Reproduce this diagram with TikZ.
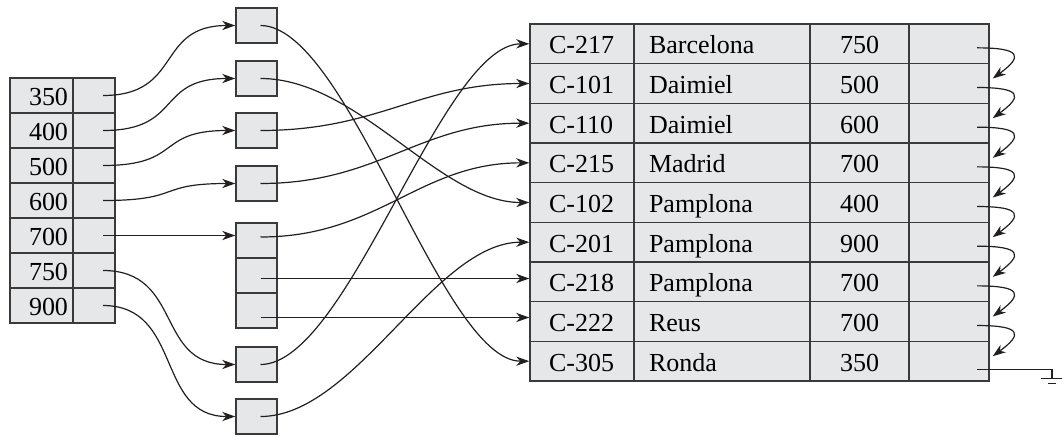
\documentclass[tikz,border=0pt]{standalone}
\usepackage{fontspec}
\setmainfont{Liberation Serif}
\usetikzlibrary{arrows.meta,calc}
\definecolor{cellfill}{HTML}{E6E7E8}
\definecolor{ink}{HTML}{231F20}
\definecolor{edge}{HTML}{3A3A3A}
\begin{document}
\begin{tikzpicture}[x=0.5pt,y=-0.5pt,
  cellbase/.style={draw=edge, fill=cellfill, line width=0.75pt, inner xsep=0pt, inner ysep=0pt,
    font=\fontsize{13}{15}\selectfont, text height=11pt, text depth=1pt},
  idxval/.style={cellbase, minimum height=17.5pt, text width=26.5pt, inner xsep=2.5pt, align=right},
  idxptr/.style={cellbase, minimum height=17.5pt, minimum width=21pt},
  bucket/.style={cellbase, minimum height=17.5pt, minimum width=20.5pt},
  tca/.style={cellbase, minimum height=19.835pt, text width=33pt, inner xsep=9.5pt, align=left},
  tcb/.style={cellbase, minimum height=19.835pt, text width=73pt, inner xsep=7.5pt, align=left},
  tcc/.style={cellbase, minimum height=19.835pt, minimum width=49.5pt},
  tcd/.style={cellbase, minimum height=19.835pt, minimum width=40pt},
  ptr/.style={draw=ink, line width=0.6pt, -{Stealth[length=6.5pt,width=4.6pt,inset=2pt]}},
  plain/.style={draw=ink, line width=0.6pt}
]
\useasboundingbox (0,0) rectangle (1062,435);

% index file
\foreach \v [count=\i from 0] in {350,400,500,600,700,750,900} {
  \node[idxval] (v\v) at (41.5, 95.5+35*\i) {\v};
  \node[idxptr] (p\v) at (94, 95.5+35*\i) {};
  \coordinate (s\v) at ($(p\v.center)+(9,0)$);
}

% buckets
\node[bucket] (b1) at (256.5,25.5) {};
\node[bucket] (b2) at (256.5,78.5) {};
\node[bucket] (b3) at (256.5,130.5) {};
\node[bucket] (b4) at (256.5,183.5) {};
\node[bucket] (b5a) at (256.5,240.5) {};
\node[bucket] (b5b) at (256.5,275.5) {};
\node[bucket] (b5c) at (256.5,310.5) {};
\node[bucket] (b6) at (256.5,364.5) {};
\node[bucket] (b7) at (256.5,416.5) {};
\foreach \b in {b1,b2,b3,b4,b6,b7} {
  \coordinate (s\b) at ($(\b.center)+(4,0)$);
}
\coordinate (sb5a) at ($(b5a.center)+(4,-3.5)$);
\coordinate (sb5b) at ($(b5b.center)+(4,3)$);
\coordinate (sb5c) at ($(b5c.center)+(4,7)$);

% account table
\foreach \n/\c/\m [count=\i from 0] in {217/Barcelona/750, 101/Daimiel/500, 110/Daimiel/600,
  215/Madrid/700, 102/Pamplona/400, 201/Pamplona/900, 218/Pamplona/700, 222/Reus/700, 305/Ronda/350} {
  \node[tca] (a\n) at (582, 43.83+39.67*\i) {C-\n};
  \node[tcb] (c\n) at (722, 43.83+39.67*\i) {\c};
  \node[tcc] (m\n) at (859.5, 43.83+39.67*\i) {\m};
  \node[tcd] (n\n) at (949, 43.83+39.67*\i) {};
  \coordinate (t\n) at ($(n\n.center)+(28,4)$);
  \coordinate (r\n) at ($(n\n.east)+(3,-5)$);
}

% index -> buckets
\draw[ptr] (s350) .. controls +(80,0) and +(-80,0) .. (b1.west);
\draw[ptr] (s400) .. controls +(80,0) and +(-80,0) .. (b2.west);
\draw[ptr] (s500) .. controls +(80,0) and +(-80,0) .. (b3.west);
\draw[ptr] (s600) .. controls +(80,0) and +(-80,0) .. (b4.west);
\draw[ptr] (s700) -- (s700 -| b5a.west);
\draw[ptr] (s750) .. controls +(80,0) and +(-80,0) .. (b6.west);
\draw[ptr] (s900) .. controls +(80,0) and +(-80,0) .. (b7.west);

% buckets -> table
\draw[ptr] (sb1) .. controls +(88,0) and +(-88,0) .. (a305.west);
\draw[ptr] (sb2) .. controls +(98,0) and +(-90,0) .. (a102.west);
\draw[ptr] (sb3) .. controls +(118,0) and +(-110,0) .. (a101.west);
\draw[ptr] (sb4) .. controls +(118,0) and +(-110,0) .. (a110.west);
\draw[ptr] (sb5a) .. controls +(118,0) and +(-110,0) .. (a215.west);
\draw[ptr] (sb5b) -- (sb5b -| a218.west);
\draw[ptr] (sb5c) -- (sb5c -| a222.west);
\draw[ptr] (sb6) .. controls +(88,0) and +(-88,0) .. (a217.west);
\draw[ptr] (sb7) .. controls +(95,0) and +(-95,0) .. (a201.west);

% chain of records
\foreach \p/\q in {217/101,101/110,110/215,215/102,102/201,201/218,218/222,222/305} {
  \draw[ptr] (t\p) .. controls +(45,0) and +(30,-22) .. (r\q);
}

% null pointer (ground)
\coordinate (g) at ($(t305)+(75,4)$);
\draw[plain] ($(t305)+(0,4)$) -- (g) -- ++(0,9);
\draw[plain] ($(g)+(-11,9)$) -- ++(22,0);
\draw[plain] ($(g)+(-4,14)$) -- ++(8,0);
\end{tikzpicture}
\end{document}
